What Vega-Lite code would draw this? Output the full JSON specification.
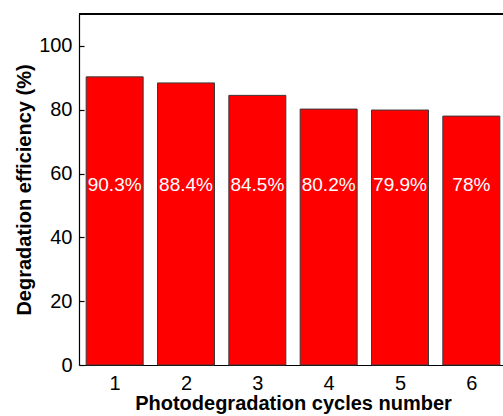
{
  "$schema": "https://vega.github.io/schema/vega-lite/v6.json",
  "width": 424,
  "height": 351,
  "autosize": {"type": "none"},
  "padding": {"left": 79, "top": 14, "right": 0, "bottom": 51},
  "background": "white",
  "config": {
    "view": {"stroke": null},
    "font": "Liberation Sans",
    "axis": {
      "domainColor": "#000000",
      "domainWidth": 1.2,
      "tickColor": "#000000",
      "tickWidth": 1.2,
      "labelColor": "#000000",
      "labelFont": "Liberation Sans",
      "labelFontSize": 20,
      "titleFont": "Liberation Sans",
      "titleFontSize": 20,
      "titleFontWeight": "bold",
      "titleColor": "#000000",
      "grid": false
    }
  },
  "data": {
    "values": [
      {"cycle": 1, "efficiency": 90.3},
      {"cycle": 2, "efficiency": 88.4},
      {"cycle": 3, "efficiency": 84.5},
      {"cycle": 4, "efficiency": 80.2},
      {"cycle": 5, "efficiency": 79.9},
      {"cycle": 6, "efficiency": 78}
    ]
  },
  "transform": [
    {"calculate": "datum.efficiency + '%'", "as": "label"}
  ],
  "encoding": {
    "x": {
      "field": "cycle",
      "type": "quantitative",
      "scale": {"domain": [0.5, 6.5], "range": [0, 428], "nice": false, "zero": false, "padding": 0},
      "axis": {
        "title": "Photodegradation cycles number",
        "format": "d",
        "values": [1, 1.5, 2, 2.5, 3, 3.5, 4, 4.5, 5, 5.5, 6, 6.5],
        "labelExpr": "datum.value % 1 === 0 ? datum.label : ''",
        "tickSize": {"condition": {"test": "datum.value % 1 === 0", "value": -5}, "value": -3},
        "labelPadding": 13,
        "titlePadding": 0,
        "labelFlush": false,
        "labelOverlap": false
      }
    }
  },
  "layer": [
    {
      "mark": {"type": "bar", "width": 57, "color": "#ff0000", "stroke": "#3a3a3a", "strokeWidth": 1},
      "encoding": {
        "y": {
          "field": "efficiency",
          "type": "quantitative",
          "scale": {"domain": [0, 110], "nice": false},
          "axis": {
            "title": "Degradation efficiency (%)",
            "values": [0, 10, 20, 30, 40, 50, 60, 70, 80, 90, 100],
            "labelExpr": "datum.value % 20 === 0 ? datum.label : ''",
            "tickSize": {"condition": {"test": "datum.value % 20 === 0", "value": -5}, "value": -3},
            "labelPadding": 12,
            "titlePadding": 4,
            "labelFlush": false,
            "labelOverlap": false
          }
        }
      }
    },
    {
      "mark": {"type": "text", "color": "#ffffff", "fontSize": 19, "font": "Liberation Sans", "baseline": "middle", "align": "center"},
      "encoding": {
        "y": {"datum": 56.5, "type": "quantitative"},
        "text": {"field": "label"}
      }
    },
    {
      "mark": {"type": "rule", "color": "#000000", "strokeWidth": 1.2},
      "encoding": {"y": {"datum": 110, "type": "quantitative"}, "x": {"value": 0}, "x2": {"value": 424}}
    }
  ]
}
